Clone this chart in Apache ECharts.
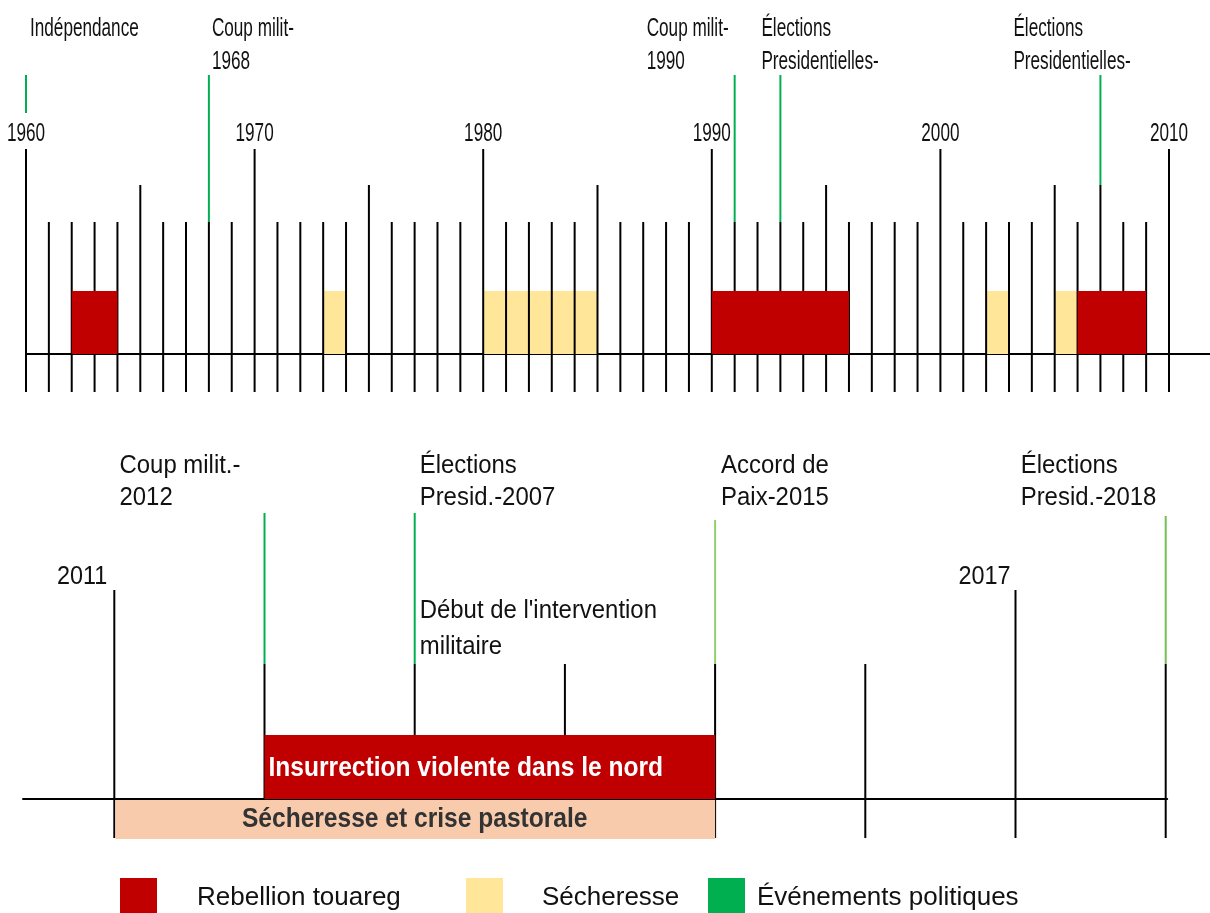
<!DOCTYPE html>
<html><head><meta charset="utf-8">
<script src="https://cdn.jsdelivr.net/npm/echarts@6/dist/echarts.min.js"></script>
<style>html,body{margin:0;padding:0;background:#fff}#c{width:1210px;height:913px}</style>
</head><body><div id="c"></div><script>
// ---------- DATA ----------
// Top timeline 1960-2010
const topAxisStart = 1960;
const topAxisEnd = 2010;
const topYearLabels = [1960, 1970, 1980, 1990, 2000, 2010];
const topRebellion = [[1962, 1964], [1990, 1996], [2006, 2009]];
const topDrought = [[1973, 1974], [1980, 1985], [2002, 2003], [2005, 2006]];
const topEventYears = [1960, 1968, 1991, 1993, 2007];
const topEventLabels = ['Indépendance', 'Coup milit-\n1968', 'Coup milit-\n1990', 'Élections\nPresidentielles-', 'Élections\nPresidentielles-'];
// Bottom timeline 2011-2018
const bottomTickYears = [2011, 2012, 2013, 2014, 2015, 2016, 2017, 2018];
const bottomYearLabels = [2011, 2017];
const bottomInsurrection = [[2012, 2015]];
const bottomInsurrectionLabels = ['Insurrection violente dans le nord'];
const bottomDrought = [[2011, 2015]];
const bottomDroughtLabels = ['Sécheresse et crise pastorale'];
const bottomEventYears = [2012, 2013, 2015, 2018];
const bottomEventLabels = ['Coup milit.-\n2012', 'Élections\nPresid.-2007', 'Accord de\nPaix-2015', 'Élections\nPresid.-2018'];
const bottomNoteYears = [2013];
const bottomNoteLabels = ["Début de l'intervention\nmilitaire"];

// ---------- STYLE (pixel units, y measured up from each baseline) ----------
const FONT = '"Liberation Sans", Arial, sans-serif';
const RED = '#c00000', YEL = '#ffe699', GREEN = '#00b050', PEACH = '#f8cbad';
const topStyle = { tickUp: { normal: 132, five: 169, ten: 205 }, tickDown: -38, block: 63, greenTop: 279,
  greenBottom: [241, 132, 132, 132, 169], tallTicks: [2007], yearLabelY: 220, labelTop: 342,
  labelDx: [4, 3, -88, -19, -87], scaleX: 0.66, fontSize: 26, lineHeight: 33 };
const botStyle = { tallUp: 209, shortUp: 135, tickDown: -39, block: 64, droughtDown: -39,
  greenTop: [286, 286, 279, 283], greenBottom: 135, greenColors: [GREEN, GREEN, '#93cf73', '#74c050'],
  yearLabelY: 222, yearLabelDx: [-7, -5], labelTop: 349, labelDx: [-145, 5, 6, -145],
  noteTop: 206, noteDx: [5], scaleX: 0.92, fontSize: 26, lineHeight: 32 };

const topTicks = [];
for (let y = topAxisStart; y <= topAxisEnd; y++) topTicks.push([y, 0]);

function txt(p, text, o) {
  return { type: 'text', x: p[0], y: p[1], scaleX: o.scaleX || 1,
    style: { text: text, x: 0, y: 0, fill: o.fill || '#111', align: o.align || 'left',
      verticalAlign: o.va || 'top', font: (o.weight || 'normal') + ' ' + o.size + 'px ' + FONT,
      lineHeight: o.lh || o.size } };
}
function rectBetween(api, a, b) {
  return { x: Math.min(a[0], b[0]), y: Math.min(a[1], b[1]), width: Math.abs(b[0] - a[0]), height: Math.abs(b[1] - a[1]) };
}

const chart = echarts.init(document.getElementById('c'), null, { renderer: 'canvas' });
const legendText = { fontSize: 26, fontFamily: FONT, color: '#111' };
const option = {
  animation: false,
  backgroundColor: '#fff',
  grid: [
    { left: 26, right: 0, top: 0, height: 400 },
    { left: 23, width: 1144.2, top: 420, height: 440 }
  ],
  xAxis: [
    { gridIndex: 0, type: 'value', min: 1960, max: 1960 + 1184 / 22.86,
      axisLine: { show: true, onZero: true, lineStyle: { color: '#000', width: 2 } },
      axisTick: { show: false }, axisLabel: { show: false }, splitLine: { show: false } },
    { gridIndex: 1, type: 'value', min: 2011 - 91.3 / 150.19, max: 2018.01,
      axisLine: { show: true, onZero: true, lineStyle: { color: '#000', width: 2 } },
      axisTick: { show: false }, axisLabel: { show: false }, splitLine: { show: false } }
  ],
  yAxis: [
    { gridIndex: 0, type: 'value', min: -46, max: 354, show: false, splitLine: { show: false } },
    { gridIndex: 1, type: 'value', min: -61, max: 379, show: false, splitLine: { show: false } }
  ],
  legend: [
    { data: ['Rebellion touareg'], left: 115, top: 873, itemWidth: 37, itemHeight: 40, icon: 'rect', selectedMode: false,
      textStyle: Object.assign({ padding: [0, 0, 0, 35] }, legendText) },
    { data: ['Sécheresse'], left: 461, top: 873, itemWidth: 37, itemHeight: 40, icon: 'rect', selectedMode: false,
      textStyle: Object.assign({ padding: [0, 0, 0, 34] }, legendText) },
    { data: ['Événements politiques'], left: 703, top: 873, itemWidth: 37, itemHeight: 40, icon: 'rect', selectedMode: false,
      textStyle: Object.assign({ padding: [0, 0, 0, 7] }, legendText) }
  ],
  series: [
    // ---- TOP ----
    { name: 'Sécheresse', type: 'custom', xAxisIndex: 0, yAxisIndex: 0, z: 1, silent: true,
      itemStyle: { color: YEL }, data: topDrought,
      renderItem: (p, api) => ({ type: 'rect', shape: rectBetween(api, api.coord([api.value(0), 0]), api.coord([api.value(1), topStyle.block])), style: { fill: YEL } }) },
    { name: 'ticksTop', type: 'custom', xAxisIndex: 0, yAxisIndex: 0, z: 2, silent: true, data: topTicks,
      renderItem: (p, api) => {
        const yr = api.value(0);
        let up = yr % 10 === 0 ? topStyle.tickUp.ten : (yr % 5 === 0 ? topStyle.tickUp.five : topStyle.tickUp.normal);
        if (topStyle.tallTicks.includes(yr)) up = topStyle.tickUp.five;
        const a = api.coord([yr, up]), b = api.coord([yr, topStyle.tickDown]);
        return { type: 'line', shape: { x1: a[0], y1: a[1], x2: b[0], y2: b[1] }, style: { stroke: '#000', lineWidth: 2 } };
      } },
    { name: 'Rebellion touareg', type: 'custom', xAxisIndex: 0, yAxisIndex: 0, z: 3, silent: true,
      itemStyle: { color: RED }, data: topRebellion,
      renderItem: (p, api) => ({ type: 'rect', shape: rectBetween(api, api.coord([api.value(0), 0]), api.coord([api.value(1), topStyle.block])), style: { fill: RED } }) },
    { name: 'Événements politiques', type: 'custom', xAxisIndex: 0, yAxisIndex: 0, z: 2, silent: true,
      itemStyle: { color: GREEN }, data: topEventYears.map(y => [y, 0]),
      renderItem: (p, api) => {
        const i = p.dataIndex, yr = api.value(0);
        const a = api.coord([yr, topStyle.greenTop]), b = api.coord([yr, topStyle.greenBottom[i]]);
        const lt = api.coord([yr, topStyle.labelTop]);
        return { type: 'group', children: [
          { type: 'line', shape: { x1: a[0], y1: a[1], x2: b[0], y2: b[1] }, style: { stroke: GREEN, lineWidth: 2 } },
          txt([lt[0] + topStyle.labelDx[i], lt[1]], topEventLabels[i], { size: topStyle.fontSize, scaleX: topStyle.scaleX, lh: topStyle.lineHeight })
        ] };
      } },
    { name: 'topYears', type: 'custom', xAxisIndex: 0, yAxisIndex: 0, z: 4, silent: true, data: topYearLabels.map(y => [y, 0]),
      renderItem: (p, api) => txt(api.coord([api.value(0), topStyle.yearLabelY]), String(api.value(0)),
        { size: topStyle.fontSize, scaleX: topStyle.scaleX, align: 'center', va: 'middle' }) },
    // ---- BOTTOM ----
    { name: 'ticksBottom', type: 'custom', xAxisIndex: 1, yAxisIndex: 1, z: 2, silent: true, data: bottomTickYears.map(y => [y, 0]),
      renderItem: (p, api) => {
        const yr = api.value(0);
        const up = bottomYearLabels.includes(yr) ? botStyle.tallUp : botStyle.shortUp;
        const a = api.coord([yr, up]), b = api.coord([yr, botStyle.tickDown]);
        return { type: 'line', shape: { x1: a[0], y1: a[1], x2: b[0], y2: b[1] }, style: { stroke: '#000', lineWidth: 2 } };
      } },
    { name: 'Sécheresse et crise pastorale', type: 'custom', xAxisIndex: 1, yAxisIndex: 1, z: 3, silent: true, data: bottomDrought,
      renderItem: (p, api) => {
        const a = api.coord([api.value(0), 0]), b = api.coord([api.value(1), botStyle.droughtDown]);
        const m = api.coord([(api.value(0) + api.value(1)) / 2, botStyle.droughtDown / 2]);
        return { type: 'group', children: [
          { type: 'rect', shape: { x: a[0] + 1, y: a[1] + 1, width: b[0] - a[0] - 1, height: b[1] - a[1] }, style: { fill: PEACH } },
          txt([m[0], m[1] + 1], bottomDroughtLabels[p.dataIndex], { size: 27, weight: 'bold', scaleX: 0.91, align: 'center', va: 'middle', fill: '#333' })
        ] };
      } },
    { name: 'Insurrection', type: 'custom', xAxisIndex: 1, yAxisIndex: 1, z: 3, silent: true, data: bottomInsurrection,
      renderItem: (p, api) => {
        const a = api.coord([api.value(0), 0]), b = api.coord([api.value(1), botStyle.block]);
        const m = api.coord([api.value(0), botStyle.block / 2]);
        return { type: 'group', children: [
          { type: 'rect', shape: rectBetween(api, a, b), style: { fill: RED } },
          txt([m[0] + 4, m[1] + 2], bottomInsurrectionLabels[p.dataIndex], { size: 27, weight: 'bold', scaleX: 0.91, va: 'middle', fill: '#fff' })
        ] };
      } },
    { name: 'eventsBottom', type: 'custom', xAxisIndex: 1, yAxisIndex: 1, z: 2, silent: true, data: bottomEventYears.map(y => [y, 0]),
      renderItem: (p, api) => {
        const i = p.dataIndex, yr = api.value(0);
        const a = api.coord([yr, botStyle.greenTop[i]]), b = api.coord([yr, botStyle.greenBottom]);
        const lt = api.coord([yr, botStyle.labelTop]);
        return { type: 'group', children: [
          { type: 'line', shape: { x1: a[0], y1: a[1], x2: b[0], y2: b[1] }, style: { stroke: botStyle.greenColors[i], lineWidth: 2 } },
          txt([lt[0] + botStyle.labelDx[i], lt[1]], bottomEventLabels[i], { size: botStyle.fontSize, scaleX: botStyle.scaleX, lh: botStyle.lineHeight })
        ] };
      } },
    { name: 'notesBottom', type: 'custom', xAxisIndex: 1, yAxisIndex: 1, z: 4, silent: true, data: bottomNoteYears.map(y => [y, 0]),
      renderItem: (p, api) => {
        const lt = api.coord([api.value(0), botStyle.noteTop]);
        return txt([lt[0] + botStyle.noteDx[p.dataIndex], lt[1]], bottomNoteLabels[p.dataIndex], { size: botStyle.fontSize, scaleX: botStyle.scaleX, lh: 36 });
      } },
    { name: 'bottomYears', type: 'custom', xAxisIndex: 1, yAxisIndex: 1, z: 4, silent: true, data: bottomYearLabels.map(y => [y, 0]),
      renderItem: (p, api) => {
        const c = api.coord([api.value(0), botStyle.yearLabelY]);
        return txt([c[0] + botStyle.yearLabelDx[p.dataIndex], c[1]], String(api.value(0)), { size: botStyle.fontSize, scaleX: 0.9, align: 'right', va: 'middle' });
      } }
  ]
};
chart.setOption(option);
</script></body></html>
